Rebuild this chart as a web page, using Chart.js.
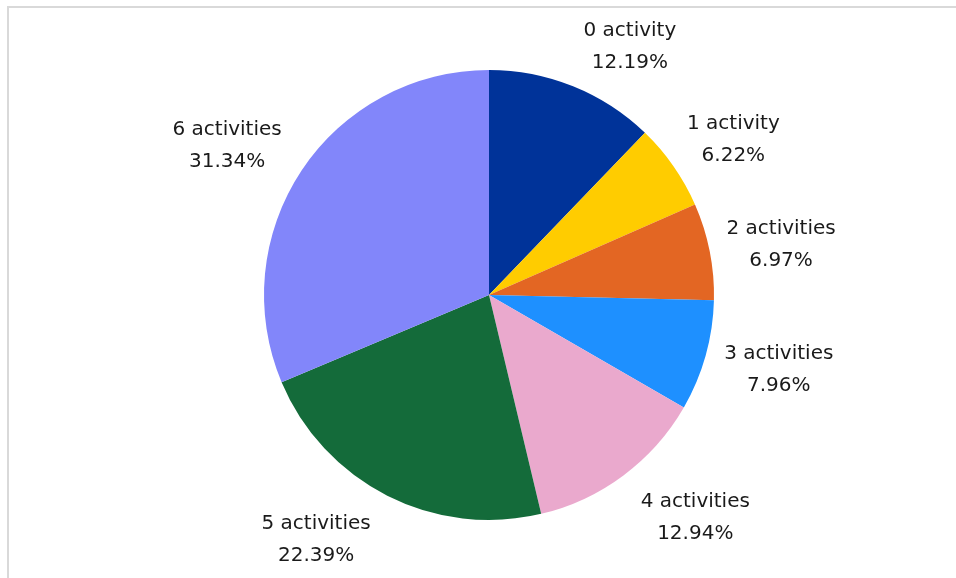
<!DOCTYPE html>
<html lang="en">
<head>
<meta charset="UTF-8">
<title>Activities</title>
<script src="https://cdn.jsdelivr.net/npm/chart.js"></script>
<style>
    html, body { margin: 0; padding: 0; background: #fff; overflow: hidden; }
    .frame {
        position: absolute; left: 7px; top: 6px;
        width: 1000px; height: 700px;
        border: 2px solid #d9d9d9;
    }
    #pieChart { position: absolute; left: 0; top: 0; }
</style>
</head>
<body>
<div class="frame"></div>
<canvas id="pieChart" width="956" height="578"></canvas>
<script>
const categories = ['0 activity', '1 activity', '2 activities', '3 activities', '4 activities', '5 activities', '6 activities'];
const shares = [12.19, 6.22, 6.97, 7.96, 12.94, 22.39, 31.34];
const colors = ['#003399', '#ffcc00', '#e36623', '#1e90ff', '#eaa9cd', '#146b3a', '#8286fa'];

// nudges for the outside labels, in px
const labelNudge = [[35, -5], [12, -5], [6, 1], [9, 4], [32, 13], [-41, 11], [-19, -4]];

const outsideLabels = {
    id: 'outsideLabels',
    afterDatasetsDraw(chart) {
        const ctx = chart.ctx;
        const meta = chart.getDatasetMeta(0);
        ctx.save();
        ctx.font = '20px "DejaVu Sans", sans-serif';
        ctx.fillStyle = '#1a1a1a';
        ctx.textAlign = 'center';
        ctx.textBaseline = 'middle';
        const lineH = 32;
        meta.data.forEach((arc, i) => {
            const mid = (arc.startAngle + arc.endAngle) / 2;
            const dx = Math.cos(mid), dy = Math.sin(mid);
            const line1 = categories[i];
            const line2 = shares[i].toFixed(2) + '%';
            const w = Math.max(ctx.measureText(line1).width, ctx.measureText(line2).width);
            const h = 50;
            const r = arc.outerRadius + 12;
            const cx = arc.x + r * dx + dx * w / 2 + labelNudge[i][0];
            const cy = arc.y + r * dy + dy * h / 2 + labelNudge[i][1];
            ctx.fillText(line1, cx, cy - lineH / 2);
            ctx.fillText(line2, cx, cy + lineH / 2);
        });
        ctx.restore();
    }
};

new Chart(document.getElementById('pieChart'), {
    type: 'pie',
    data: {
        labels: categories,
        datasets: [{
            data: shares,
            backgroundColor: colors,
            borderWidth: 0
        }]
    },
    options: {
        responsive: false,
        animation: false,
        layout: { padding: { top: 70, bottom: 58, left: 22, right: 0 } },
        plugins: {
            legend: { display: false },
            tooltip: { enabled: false }
        }
    },
    plugins: [outsideLabels]
});
</script>
</body>
</html>
